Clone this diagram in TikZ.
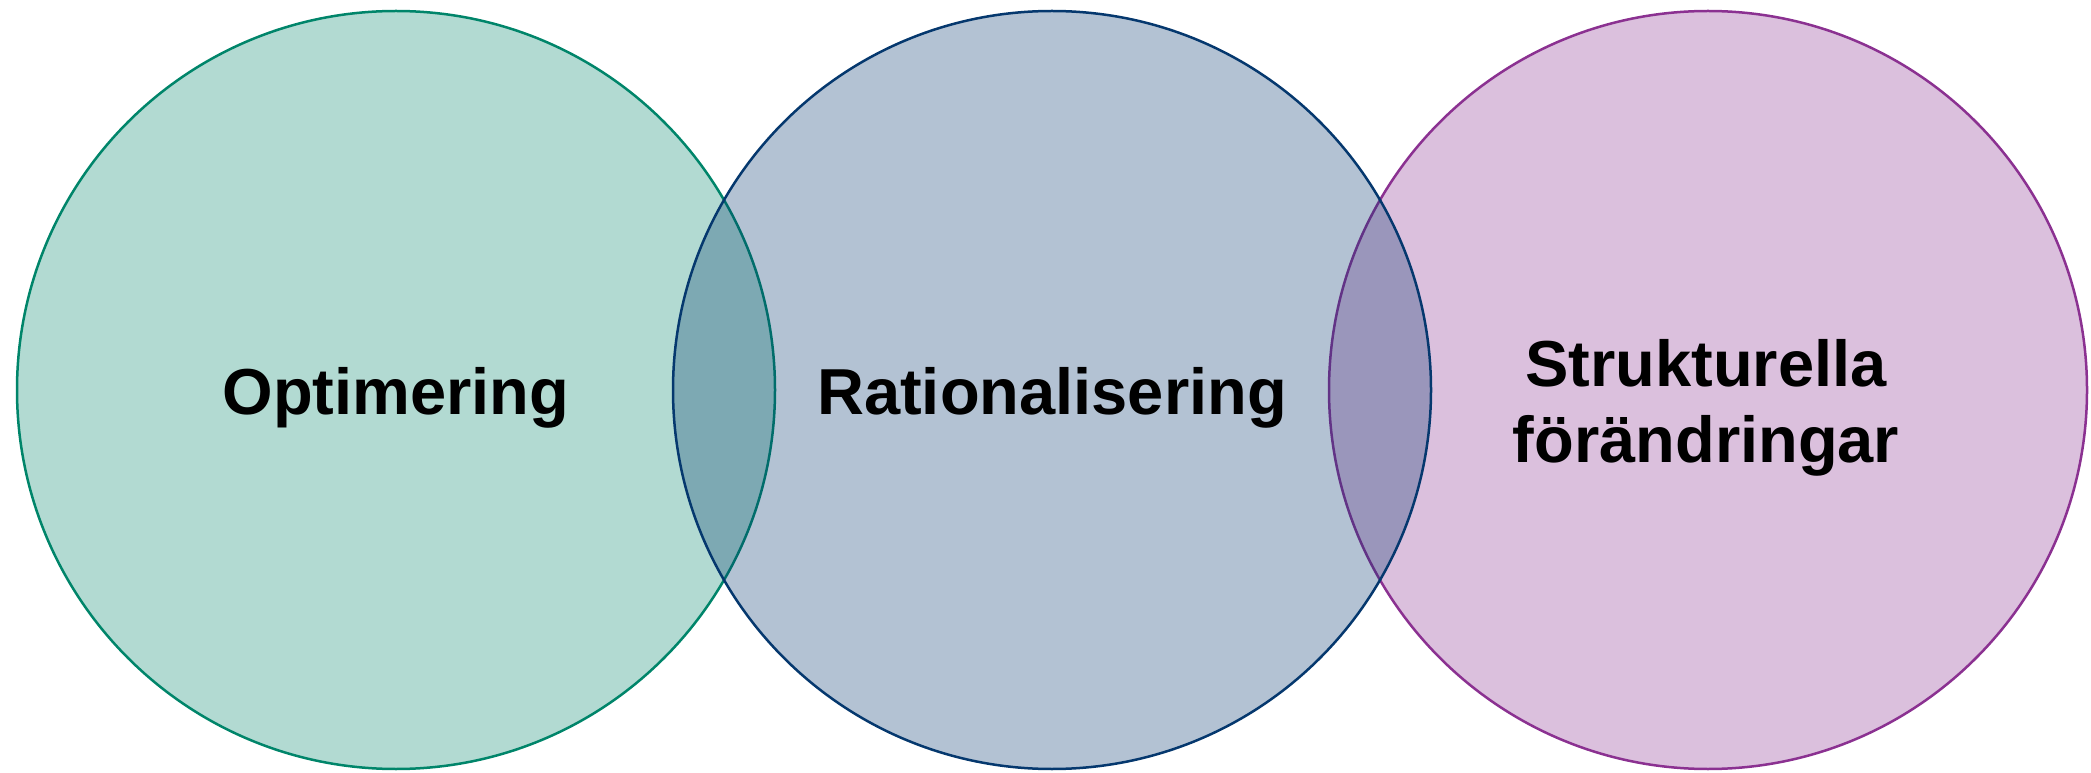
\documentclass[tikz,border=0pt]{standalone}
\usepackage{fontspec}
\setmainfont{Liberation Sans}
\definecolor{cgreen}{RGB}{0,133,106}
\definecolor{cblue}{RGB}{5,56,110}
\definecolor{cpurple}{RGB}{139,49,145}
\begin{document}
\begin{tikzpicture}[x=1pt,y=1pt,
  venn/.style={circle, minimum size=758pt, inner sep=0pt, line width=2.5pt, fill opacity=0.3, draw opacity=1},
  lbl/.style={anchor=base, inner sep=0pt, font=\fontsize{65}{78}\selectfont\bfseries, text=black}]
\useasboundingbox[fill=white] (0,0) rectangle (2091,772);
\node[venn, draw=cgreen, fill=cgreen] (c1) at (396,382) {};
\node[venn, draw=cpurple, fill=cpurple] (c3) at (1708,382) {};
\node[venn, draw=cblue, fill=cblue] (c2) at (1052,382) {};
\node[lbl] (t1) at (396,357) {Optimering};
\node[lbl] (t2) at (1052,357) {Rationalisering};
\node[lbl] (t3a) at (1706,385) {Strukturella};
\node[lbl] (t3b) at (1706,309) {förändringar};
\end{tikzpicture}
\end{document}
